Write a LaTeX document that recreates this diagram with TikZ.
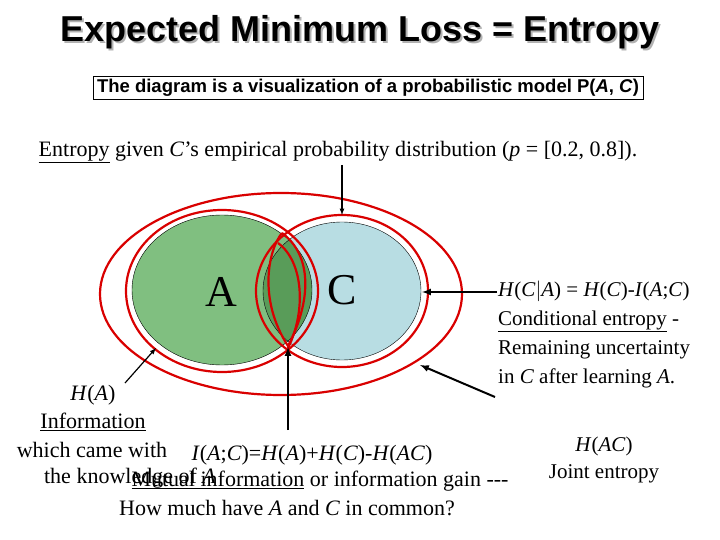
\documentclass[tikz,border=0pt]{standalone}
\usepackage{fontspec}
\setmainfont{Liberation Serif}
\newfontfamily\arial{Liberation Sans}
\definecolor{lightc}{RGB}{184,221,227}
\begin{document}
\begin{tikzpicture}[x=1pt,y=-1pt,
  redline/.style={draw=red!85!black,line width=2.2pt},
  arr/.style={-latex,line width=2pt},
  txt/.style={font=\fontsize{22}{26}\selectfont,align=center,inner sep=0pt}]
\useasboundingbox (0,0) rectangle (720,540);
\node[font=\arial\bfseries\fontsize{36}{40}\selectfont,text=gray!60] at (362,34) {Expected Minimum Loss = Entropy};
\node[font=\arial\bfseries\fontsize{36}{40}\selectfont] (title) at (360,32) {Expected Minimum Loss = Entropy};
\node[draw,line width=0.8pt,fill=white,font=\arial\bfseries\fontsize{18.5}{22}\selectfont,inner xsep=4pt,inner ysep=3pt] (box) at (368,88) {The diagram is a visualization of a probabilistic model P(\textit{A}, \textit{C})};
\node[txt] (ent) at (338,152) {\underline{Entropy} given \textit{C}'s empirical probability distribution (\textit{p} = [0.2, 0.8]).};
% circles
\fill[fill=green!50!black!50] (222,290) ellipse (90 and 75);
\fill[fill=lightc] (342,291) ellipse (79 and 69);
\begin{scope}
\clip (222,290) ellipse (90 and 75);
\fill[fill=green!40!black!65] (342,291) ellipse (79 and 69);
\end{scope}
\draw[line width=0.4pt] (222,290) ellipse (90 and 75);
\draw[line width=0.4pt] (342,291) ellipse (79 and 69);
\node[font=\fontsize{44}{48}\selectfont] (A) at (221,292) {A};
\node[font=\fontsize{44}{48}\selectfont] (C) at (342,290) {C};
% red outlines
\draw[redline] (222,291) ellipse (96 and 81);
\draw[redline] (342,291) ellipse (86 and 76);
\draw[redline] (281,294) ellipse (181 and 101);
\draw[redline] (282,233) .. controls (268,250) and (258,300) .. (288,346) .. controls (312,300) and (312,255) .. (282,233);
\draw[redline] (278,243) .. controls (304,262) and (306,312) .. (288,348);
% arrows
\coordinate (t1) at (342,165);
\coordinate (t2) at (342,215);
\draw[arr,line width=1.2pt] (t1) -- (t2);
\coordinate (r1) at (497,292);
\coordinate (r2) at (422,292);
\draw[arr] (r1) -- (r2);
\coordinate (d1) at (495,397);
\coordinate (d2) at (420,365);
\draw[arr] (d1) -- (d2);
\coordinate (u1) at (288,430);
\coordinate (u2) at (288,347);
\draw[arr] (u1) -- (u2);
\coordinate (h1) at (125,383);
\coordinate (h2) at (156,348);
\draw[arr,line width=1.2pt] (h1) -- (h2);
% right text
\node[txt,align=left,anchor=north west,font=\fontsize{21}{29}\selectfont] (hca) at (498,281) {\textit{H}(\textit{C}$|$\textit{A}) = \textit{H}(\textit{C})-\textit{I}(\textit{A};\textit{C})\\ \underline{Conditional entropy} -\\ Remaining uncertainty\\ in \textit{C} after learning \textit{A}.};
\node[txt,font=\fontsize{21}{27}\selectfont] (hac) at (604,460) {\textit{H}(\textit{AC})\\ Joint entropy};
% left/bottom text
\node[txt] (ha) at (93,408) {\textit{H}(\textit{A})\\[2pt] \underline{Information}};
\node[txt] (hb) at (92,450) {which came with};
\node[txt] (hc) at (130,478) {the knowledge of \textit{A}};
\node[txt] (ia) at (312,455) {\textit{I}(\textit{A};\textit{C})=\textit{H}(\textit{A})+\textit{H}(\textit{C})-\textit{H}(\textit{AC})};
\node[txt] (ib) at (320,481) {\underline{Mutual information} or information gain -{}-{}-};
\node[txt] (ic) at (287,508) {How much have \textit{A} and \textit{C} in common?};
\end{tikzpicture}
\end{document}
